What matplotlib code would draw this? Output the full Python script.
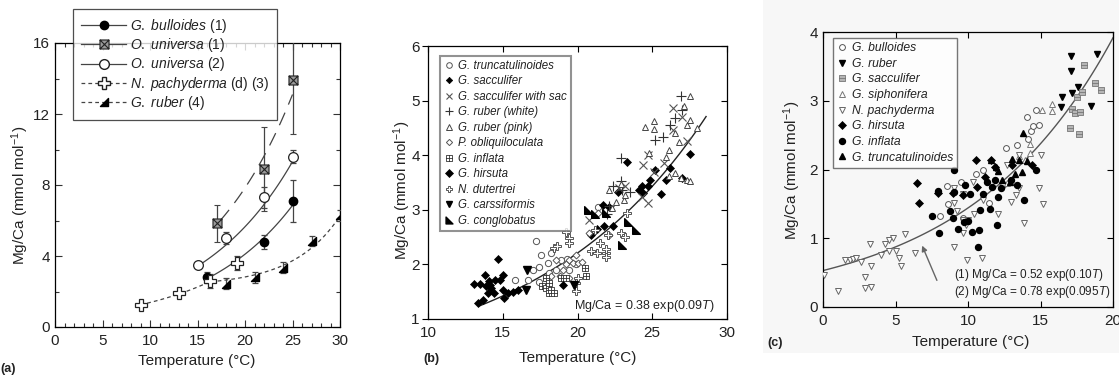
import numpy as np
import matplotlib
matplotlib.use('Agg')
import matplotlib.pyplot as plt
from matplotlib.path import Path
from matplotlib.lines import Line2D
from matplotlib.patches import Rectangle

plt.rcParams['font.family'] = ['Liberation Sans', 'DejaVu Sans']
plt.rcParams['mathtext.fontset'] = 'custom'
plt.rcParams['mathtext.rm'] = 'Liberation Sans'
plt.rcParams['mathtext.it'] = 'Liberation Sans:italic'
plt.rcParams['mathtext.bf'] = 'Liberation Sans:bold'

W, H = 1119, 375
TXT = '#222222'

# ---------------- Panel (a) data ----------------
bull_T = [16, 22, 25]
bull_v = [2.8, 4.8, 7.1]
bull_e = [0.3, 0.4, 1.2]
univ1_T = [17, 22, 25]
univ1_v = [5.85, 8.9, 13.9]
univ1_e = [1.05, 2.35, 3.0]
univ2_T = [15, 18, 22, 25]
univ2_v = [3.5, 5.0, 7.3, 9.6]
univ2_e = [0.0, 0.35, 0.6, 0.35]
pachy_T = [9, 13, 16.3, 19.2]
pachy_v = [1.25, 1.9, 2.6, 3.6]
pachy_e = [0.0, 0.0, 0.4, 0.4]
rubA_T = [18, 21, 24, 27, 30]
rubA_v = [2.45, 2.8, 3.35, 4.85, 6.3]
rubA_e = [0.3, 0.3, 0.3, 0.3, 0.3]
# fitted calibration curves (a * exp(b*T))
fit_bull = (0.527, 0.1026, 16.25, 25.0)
fit_univ1 = (1.005, 0.1027, 17.4, 25.0)
fit_univ2 = (0.763, 0.1001, 15.4, 25.0)
fit_pachy = (0.52, 0.0977, 9.0, 16.4)
fit_rubA = (2.3, 0.00896, 0.203, 16.4, 30.0)   # d + c*exp(b*T)

# ---------------- Panel (b) data ----------------
b_trunc_T = [15.8, 16.7, 17.0, 17.2, 17.4, 17.45, 17.55, 17.9, 18.0, 18.1, 18.2, 18.55, 18.9, 19.3, 19.4, 19.9, 21.4]
b_trunc_v = [1.72, 1.71, 1.89, 2.43, 1.95, 1.67, 2.18, 1.75, 2.02, 1.84, 2.2, 1.9, 2.08, 2.09, 1.9, 2.0, 3.05]
b_sacc_T = [20.9, 21.3, 21.7, 21.8, 22.1, 22.4, 22.7, 23.3, 24.1, 24.3, 24.4, 24.7, 24.85, 25.2, 25.6, 25.9, 26.2, 27.0, 27.5]
b_sacc_v = [2.53, 2.65, 3.08, 2.7, 3.06, 2.7, 3.32, 3.87, 3.37, 3.43, 3.3, 3.44, 3.55, 3.73, 3.29, 3.55, 3.76, 3.58, 4.03]
b_sacsac_T = [20.8, 22.8, 23.2, 24.3, 24.4, 24.7, 24.7, 25.1, 25.8, 26.4, 26.4, 27.0, 27.3]
b_sacsac_v = [2.81, 3.4, 3.43, 3.24, 3.82, 4.0, 3.12, 3.7, 3.85, 4.46, 4.86, 4.7, 4.26]
b_rubw_T = [22.0, 22.1, 22.4, 22.9, 22.9, 23.0, 23.5, 25.2, 25.7, 26.2, 26.5, 26.9, 27.0]
b_rubw_v = [2.92, 3.07, 3.43, 3.95, 3.52, 3.37, 3.32, 4.28, 4.34, 4.55, 4.68, 5.09, 4.83]
b_rubp_T = [22.1, 22.3, 22.6, 22.9, 23.1, 23.2, 24.5, 24.8, 25.1, 25.1, 25.95, 26.1, 26.1, 26.55, 26.55, 26.8, 26.9, 27.1, 27.3, 27.3, 27.5, 27.55, 27.55, 28.0]
b_rubp_v = [3.37, 3.03, 3.15, 3.47, 3.18, 3.27, 4.52, 4.04, 4.62, 4.48, 3.96, 3.62, 4.1, 3.67, 4.4, 4.25, 3.58, 4.9, 3.55, 4.55, 5.09, 3.52, 4.65, 4.5]
b_obliq_T = [18.2, 18.55, 18.8, 19.0, 19.2, 19.4, 19.45, 19.7, 19.9, 20.0, 20.3, 20.8, 21.4, 22.1]
b_obliq_v = [1.78, 2.08, 1.78, 1.9, 2.0, 1.75, 2.08, 2.02, 2.18, 2.02, 2.05, 2.58, 2.94, 2.54]
b_infl_T = [17.65, 17.9, 17.9, 18.07, 18.1, 18.2, 18.45, 18.9, 19.2, 20.5, 20.55]
b_infl_v = [1.6, 1.57, 1.75, 1.48, 1.66, 1.54, 1.48, 1.75, 1.75, 1.93, 1.78]
b_hirs_T = [13.07, 13.33, 13.45, 13.67, 13.8, 13.85, 14.0, 14.07, 14.16, 14.2, 14.4, 14.5, 14.67, 14.8, 15.0, 15.0, 15.1, 15.33, 15.67, 16.0, 19.0]
b_hirs_v = [1.65, 1.29, 1.65, 1.35, 1.81, 1.6, 1.48, 1.7, 1.63, 1.57, 1.48, 1.72, 2.1, 1.72, 1.81, 1.54, 1.38, 1.48, 1.5, 1.54, 1.63]
b_dut_T = [18.45, 18.65, 19.2, 19.4, 19.45, 19.9, 19.9, 20.0, 20.9, 21.2, 21.3, 21.5, 21.9, 21.9, 21.9, 22.07, 22.9, 23.2, 23.3]
b_dut_v = [2.3, 2.33, 2.6, 2.48, 2.39, 1.66, 1.52, 1.75, 2.24, 2.63, 2.2, 2.39, 2.2, 2.13, 2.29, 2.54, 2.57, 2.5, 2.95]
b_cars_T = [16.55, 16.6, 19.75]
b_cars_v = [1.54, 1.9, 1.63]
b_cong_T = [20.7, 21.2, 21.9, 23.0, 23.4, 23.9]
b_cong_v = [3.0, 2.93, 2.95, 2.36, 2.77, 2.63]
fit_b = (0.38, 0.088, 13.4, 28.6)

# ---------------- Panel (c) data ----------------
c_bull_T = [8.06, 8.53, 8.64, 9.5, 9.68, 10.55, 11.06, 11.47, 12.44, 12.63, 13.36, 14.06, 14.17, 14.35, 14.47, 14.7, 14.93]
c_bull_v = [1.33, 1.76, 1.5, 1.82, 1.3, 1.93, 2.0, 1.51, 1.77, 2.32, 2.36, 2.76, 2.45, 2.56, 2.63, 2.87, 2.65]
c_rub_T = [16.4, 16.47, 17.1, 17.1, 17.17, 17.6, 18.5, 18.9]
c_rub_v = [2.91, 3.05, 3.65, 3.44, 3.12, 3.2, 2.92, 3.68]
c_sacc_T = [17.0, 17.17, 17.4, 17.5, 17.67, 17.7, 17.86, 17.97, 18.78, 19.17]
c_sacc_v = [2.6, 2.88, 2.82, 3.05, 2.52, 2.83, 3.13, 3.52, 3.26, 3.15]
c_siph_T = [12.67, 13.5, 13.94, 14.3, 14.3, 15.1, 15.76, 15.8]
c_siph_v = [1.81, 2.2, 2.14, 2.37, 2.24, 2.87, 2.85, 2.96]
c_pachy_T = [0.05, 1.04, 1.5, 1.84, 2.07, 2.3, 2.65, 2.88, 2.88, 3.27, 3.34, 3.34, 4.03, 4.26, 4.56, 4.84, 4.56, 5.02, 5.25, 5.35, 5.65, 6.34,
             9.03, 9.9, 10.97, 9.03, 9.68, 9.0, 9.26, 9.68, 10.0, 10.37, 9.68, 9.86, 10.4, 11.06, 12.1, 12.67, 12.97, 13.3, 13.55, 13.55, 13.87, 14.88, 15.05, 15.16]
c_pachy_v = [0.46, 0.24, 0.68, 0.69, 0.7, 0.72, 0.66, 0.44, 0.28, 0.91, 0.29, 0.59, 0.75, 0.92, 0.97, 1.01, 0.82, 0.82, 0.71, 0.6, 1.06, 0.78,
             0.87, 0.69, 0.72, 1.51, 1.65, 1.73, 1.39, 1.26, 1.27, 1.82, 1.07, 1.2, 1.36, 1.56, 1.36, 2.07, 1.53, 1.63, 1.73, 2.21, 1.22, 1.73, 2.21, 1.5]
c_hirs_T = [6.45, 6.6, 7.9, 8.94, 9.68, 10.58, 10.6, 11.18, 11.59, 11.87, 13.04, 14.4]
c_hirs_v = [1.81, 1.51, 1.66, 1.66, 1.63, 2.14, 1.75, 1.89, 2.14, 2.04, 2.07, 2.07]
c_infl_T = [7.49, 8.02, 7.9, 9.03, 8.76, 8.94, 9.03, 9.33, 9.75, 9.8, 10.0, 10.14, 10.25, 10.78, 10.71, 10.83, 11.06, 11.3, 11.52, 11.64, 11.87, 11.98, 12.1, 12.26, 12.95, 13.36, 13.87, 14.7]
c_infl_v = [1.32, 1.07, 1.69, 1.99, 1.4, 1.3, 1.68, 1.14, 1.23, 1.77, 1.25, 1.65, 1.09, 1.12, 0.87, 1.41, 1.65, 1.82, 1.43, 1.75, 1.85, 1.2, 1.6, 1.73, 1.85, 1.77, 1.56, 2.0]
c_trunc_T = [11.57, 11.94, 12.1, 12.33, 12.9, 13.0, 13.27, 13.5, 13.7, 13.82, 14.06]
c_trunc_v = [2.14, 2.04, 1.98, 1.85, 1.82, 2.16, 1.94, 2.14, 1.97, 2.53, 2.13]
fit_c = (0.53, 0.10, 0.0, 20.0)

# ---------------- custom markers ----------------
def mk(verts, codes):
    return Path(np.array(verts, float), codes)

M, L, C = Path.MOVETO, Path.LINETO, Path.CLOSEPOLY
BOX_X = mk([(-1, -1), (1, -1), (1, 1), (-1, 1), (-1, -1), (-1, -1), (1, 1), (-1, 1), (1, -1)],
           [M, L, L, L, C, M, L, M, L])
BOX_PLUS = mk([(-1, -1), (1, -1), (1, 1), (-1, 1), (-1, -1), (0, -1), (0, 1), (-1, 0), (1, 0)],
              [M, L, L, L, C, M, L, M, L])
BOX_MINUS = mk([(-1, -1), (1, -1), (1, 1), (-1, 1), (-1, -1), (-1, 0), (1, 0)],
               [M, L, L, L, C, M, L])
TRI_LR = mk([(-1, -1), (1, -1), (1, 1), (-1, -1)], [M, L, L, C])
TRI_LL = mk([(-1, -1), (1, -1), (-1, 1), (-1, -1)], [M, L, L, C])


def ftxt(fig, px, py, s, **kw):
    kw.setdefault('ha', 'center')
    kw.setdefault('va', 'center')
    kw.setdefault('color', TXT)
    return fig.text(px / W, 1 - py / H, s, **kw)


def axrect(l, r, t, b):
    return [l / W, 1 - b / H, (r - l) / W, (b - t) / H]


fig = plt.figure(figsize=(W / 100, H / 100), dpi=100)
bg = Rectangle((763 / W, 1 - 353 / H), (W - 763) / W, 353 / H,
               transform=fig.transFigure, facecolor='#f7f7f7', edgecolor='none', zorder=-5)
fig.add_artist(bg)

# ======================= Panel (a) =======================
ax = fig.add_axes(axrect(55, 340, 43, 327))
ax.set_xlim(0, 30)
ax.set_ylim(0, 16)
ax.set_xticks(np.arange(0, 31, 5))
ax.set_xticks(np.arange(0, 31, 1), minor=True)
ax.set_yticks(np.arange(0, 17, 4))
ax.set_yticks(np.arange(0, 17, 2), minor=True)
ax.tick_params(which='both', direction='in', top=True, right=True, labelsize=11, labelcolor=TXT, width=0.8, color='#333')
ax.tick_params(which='major', length=5)
ax.tick_params(which='minor', length=3)
ax.tick_params(axis='x', pad=5)
for s in ax.spines.values():
    s.set_linewidth(0.9)

def curve(p):
    a, b, t0, t1 = p
    t = np.linspace(t0, t1, 100)
    return t, a * np.exp(b * t)

LC = '#444444'
t, y = curve(fit_bull)
ax.plot(t, y, color=LC, lw=0.9, zorder=2)
t, y = curve(fit_univ1)
ax.plot(t, y, color=LC, lw=0.9, dashes=(11, 7), zorder=2)
t, y = curve(fit_univ2)
ax.plot(t, y, color=LC, lw=0.9, zorder=2)
t, y = curve(fit_pachy)
ax.plot(t, y, color=LC, lw=0.9, dashes=(3, 2.5), zorder=2)
d_, c_, b_, t0_, t1_ = fit_rubA
t = np.linspace(t0_, t1_, 100)
ax.plot(t, d_ + c_ * np.exp(b_ * t), color=LC, lw=0.9, dashes=(3, 2.5), zorder=2)

ekw = dict(ecolor='#444', elinewidth=0.9, capsize=2.2, capthick=0.9, linestyle='none', zorder=3)
ax.errorbar(bull_T, bull_v, yerr=bull_e, marker='o', ms=6, mfc='black', mec='black', **ekw)
ax.errorbar(univ1_T, univ1_v, yerr=univ1_e, marker=BOX_X, ms=6.5, mfc='#9a9a9a', mec='#222', mew=0.8, **ekw)
ax.errorbar(univ2_T, univ2_v, yerr=univ2_e, marker='o', ms=7, mfc='white', mec='#222', mew=0.9, **ekw)
ax.errorbar(pachy_T, pachy_v, yerr=pachy_e, marker='P', ms=9, mfc='white', mec='#222', mew=0.9, **ekw)
ax.errorbar(rubA_T, rubA_v, yerr=rubA_e, marker=TRI_LR, ms=6, mfc='black', mec='black', **ekw)

hA = [
    Line2D([], [], color=LC, lw=0.9, marker='o', ms=6, mfc='black', mec='black'),
    Line2D([], [], color=LC, lw=0.9, marker=BOX_X, ms=6.5, mfc='#9a9a9a', mec='#222', mew=0.8),
    Line2D([], [], color=LC, lw=0.9, marker='o', ms=7, mfc='white', mec='#222'),
    Line2D([], [], color=LC, lw=0.9, dashes=(3, 2.5), marker='P', ms=9, mfc='white', mec='#222'),
    Line2D([], [], color=LC, lw=0.9, dashes=(3, 2.5), marker=TRI_LR, ms=6, mfc='black', mec='black'),
]
lA = [r'$\mathit{G.\ bulloides}$ (1)', r'$\mathit{O.\ universa}$ (1)', r'$\mathit{O.\ universa}$ (2)',
      r'$\mathit{N.\ pachyderma}$ (d) (3)', r'$\mathit{G.\ ruber}$ (4)']
legA = fig.legend(hA, lA, loc='upper left', bbox_to_anchor=(73 / W, 1 - 9 / H), borderaxespad=0,
                  fontsize=10, handlelength=3.3, handletextpad=0.25, labelspacing=0.1, numpoints=1,
                  frameon=True, fancybox=False, borderpad=0.55, labelcolor=TXT)
legA.get_frame().set_edgecolor('#222')
legA.get_frame().set_linewidth(0.9)
legA.set_zorder(10)

ftxt(fig, 197, 361, 'Temperature (°C)', fontsize=11)
ftxt(fig, 20, 195, 'Mg/Ca (mmol mol$^{-1}$)', fontsize=11, rotation=90)
ftxt(fig, 8, 369, '(a)', fontsize=9, fontweight='bold')

# ======================= Panel (b) =======================
bx = fig.add_axes(axrect(428, 727, 46, 319))
bx.set_xlim(10, 30)
bx.set_ylim(1, 6)
bx.set_xticks([10, 15, 20, 25, 30])
bx.set_yticks([1, 2, 3, 4, 5, 6])
bx.tick_params(axis='x', direction='in', top=True, length=4, labelsize=11, labelcolor=TXT, pad=5)
bx.tick_params(axis='y', direction='out', length=4, labelsize=11, labelcolor=TXT, pad=2)
sy = bx.secondary_yaxis('right')
sy.set_yticks([1, 2, 3, 4, 5, 6])
sy.tick_params(direction='in', length=4, labelright=False)
for s in list(bx.spines.values()):
    s.set_linewidth(0.9)
sy.spines['right'].set_visible(False)

t, y = curve(fit_b)
bx.plot(t, y, color='#222', lw=1.0, zorder=2)

GE = '#555555'
sB = [
    (b_trunc_T, b_trunc_v, dict(marker='o', ms=4.5, mfc='white', mec=GE, mew=0.7), 'G. truncatulinoides'),
    (b_sacc_T, b_sacc_v, dict(marker='D', ms=3.6, mfc='black', mec='black', mew=0.5), 'G. sacculifer'),
    (b_sacsac_T, b_sacsac_v, dict(marker='x', ms=5.5, mec=GE, mew=0.8), 'G. sacculifer with sac'),
    (b_rubw_T, b_rubw_v, dict(marker='+', ms=6.5, mec='#333', mew=0.8), 'G. ruber (white)'),
    (b_rubp_T, b_rubp_v, dict(marker='^', ms=5, mfc='white', mec='#444', mew=0.7), 'G. ruber (pink)'),
    (b_obliq_T, b_obliq_v, dict(marker='D', ms=3.5, mfc='white', mec=GE, mew=0.7), 'P. obliquiloculata'),
    (b_infl_T, b_infl_v, dict(marker=BOX_PLUS, ms=5, mfc='white', mec='#333', mew=0.6), 'G. inflata'),
    (b_hirs_T, b_hirs_v, dict(marker='D', ms=4.2, mfc='black', mec='black', mew=0.5), 'G. hirsuta'),
    (b_dut_T, b_dut_v, dict(marker='P', ms=5.5, mfc='white', mec=GE, mew=0.7), 'N. dutertrei'),
    (b_cars_T, b_cars_v, dict(marker='v', ms=5.5, mfc='black', mec='black'), 'G. carssiformis'),
    (b_cong_T, b_cong_v, dict(marker=TRI_LL, ms=5.5, mfc='black', mec='black'), 'G. conglobatus'),
]
for T, v, st, lab in sB:
    bx.plot(T, v, linestyle='none', label=lab, zorder=3, **st)
legB = bx.legend(loc='upper left', bbox_to_anchor=((440 - 428) / 299, (319 - 56) / 273), borderaxespad=0,
                 prop={'size': 8.3, 'style': 'italic'}, handlelength=0.8, handletextpad=0.45,
                 labelspacing=0.3, numpoints=1, markerscale=0.9,
                 frameon=True, fancybox=False, borderpad=0.35, labelcolor=TXT)
legB.get_frame().set_edgecolor('#777')
legB.get_frame().set_linewidth(1.5)
ftxt(fig, 715, 306, 'Mg/Ca = 0.38 exp(0.09$\\mathit{T}$)', fontsize=9, ha='right')
ftxt(fig, 578, 358, 'Temperature (°C)', fontsize=11)
ftxt(fig, 402, 190, 'Mg/Ca (mmol mol$^{-1}$)', fontsize=11, rotation=90)
ftxt(fig, 431, 359, '(b)', fontsize=9, fontweight='bold')

# ======================= Panel (c) =======================
cx = fig.add_axes(axrect(823, 1113, 32, 307))
cx.patch.set_alpha(0)
cx.set_xlim(0, 20)
cx.set_ylim(0, 4)
cx.set_xticks([0, 5, 10, 15, 20])
cx.set_yticks([0, 1, 2, 3, 4])
cx.tick_params(direction='in', top=True, right=True, length=4, labelsize=11, labelcolor=TXT)
cx.tick_params(axis='x', pad=5)
for s in cx.spines.values():
    s.set_linewidth(0.9)
t, y = curve(fit_c)
cx.plot(t, y, color='#555', lw=1.0, zorder=2)
cx.annotate('', xy=(6.76, 0.93), xytext=(7.93, 0.35),
            arrowprops=dict(arrowstyle='-|>', color='#666', lw=1.0, mutation_scale=8))

sC = [
    (c_bull_T, c_bull_v, dict(marker='o', ms=4.2, mfc='white', mec=GE, mew=0.7), 'G. bulloides'),
    (c_rub_T, c_rub_v, dict(marker='v', ms=4.8, mfc='black', mec='black'), 'G. ruber'),
    (c_sacc_T, c_sacc_v, dict(marker=BOX_MINUS, ms=4.5, mfc='#b5b5b5', mec='#777', mew=0.6), 'G. sacculifer'),
    (c_siph_T, c_siph_v, dict(marker='^', ms=4.5, mfc='white', mec='#777', mew=0.7), 'G. siphonifera'),
    (c_pachy_T, c_pachy_v, dict(marker='v', ms=4.5, mfc='white', mec='#666', mew=0.7), 'N. pachyderma'),
    (c_hirs_T, c_hirs_v, dict(marker='D', ms=3.8, mfc='black', mec='black', mew=0.5), 'G. hirsuta'),
    (c_infl_T, c_infl_v, dict(marker='o', ms=4.3, mfc='black', mec='black'), 'G. inflata'),
    (c_trunc_T, c_trunc_v, dict(marker='^', ms=4.5, mfc='black', mec='black'), 'G. truncatulinoides'),
]
for T, v, st, lab in sC:
    cx.plot(T, v, linestyle='none', label=lab, zorder=3, **st)
legC = cx.legend(loc='upper left', bbox_to_anchor=((833 - 823) / 290, (307 - 38) / 275), borderaxespad=0,
                 prop={'size': 8.7, 'style': 'italic'}, handlelength=0.8, handletextpad=0.4,
                 labelspacing=0.3, numpoints=1,
                 frameon=True, fancybox=False, borderpad=0.35, labelcolor=TXT)
legC.get_frame().set_edgecolor('#555')
legC.get_frame().set_linewidth(1.0)
ftxt(fig, 954, 275, '(1) Mg/Ca = 0.52 exp(0.10$\\mathit{T}$)', fontsize=8.5, ha='left')
ftxt(fig, 954, 292, '(2) Mg/Ca = 0.78 exp(0.095$\\mathit{T}$)', fontsize=8.5, ha='left')
ftxt(fig, 971, 342, 'Temperature (°C)', fontsize=11)
ftxt(fig, 792, 170, 'Mg/Ca (mmol mol$^{-1}$)', fontsize=11, rotation=90)
ftxt(fig, 775, 343, '(c)', fontsize=9, fontweight='bold')

fig.savefig('out.png', dpi=100)
